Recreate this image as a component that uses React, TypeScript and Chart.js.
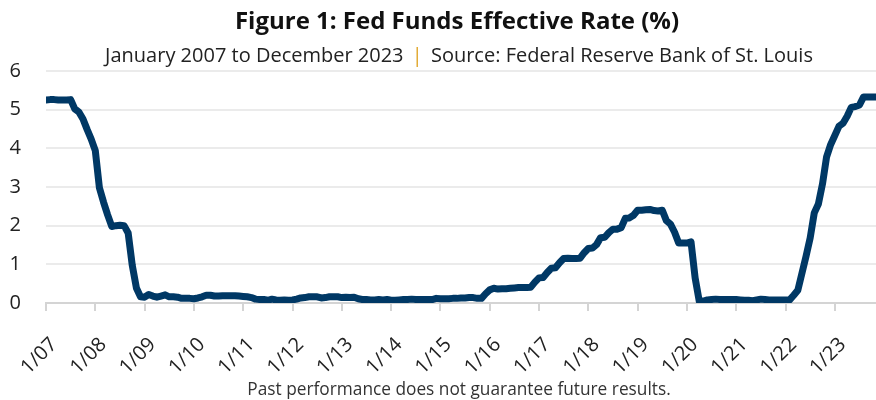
import React, { useEffect, useRef } from "react";
import { Chart, registerables } from "chart.js";

Chart.register(...registerables);

const startYear = 2007;
const rate2007 = [5.25, 5.26, 5.26, 5.25, 5.25, 5.25, 5.26, 5.02, 4.94, 4.76, 4.49, 4.24];
const rate2008 = [3.94, 2.98, 2.61, 2.28, 1.98, 2.0, 2.01, 2.0, 1.81, 0.97, 0.39, 0.16];
const rate2009 = [0.15, 0.22, 0.18, 0.15, 0.18, 0.21, 0.16, 0.16, 0.15, 0.12, 0.12, 0.12];
const rate2010 = [0.11, 0.13, 0.16, 0.2, 0.2, 0.18, 0.18, 0.19, 0.19, 0.19, 0.19, 0.18];
const rate2011 = [0.17, 0.16, 0.14, 0.1, 0.09, 0.09, 0.07, 0.1, 0.08, 0.07, 0.08, 0.07];
const rate2012 = [0.08, 0.1, 0.13, 0.14, 0.16, 0.16, 0.16, 0.13, 0.14, 0.16, 0.16, 0.16];
const rate2013 = [0.14, 0.15, 0.14, 0.15, 0.11, 0.09, 0.09, 0.08, 0.08, 0.09, 0.08, 0.09];
const rate2014 = [0.07, 0.07, 0.08, 0.09, 0.09, 0.1, 0.09, 0.09, 0.09, 0.09, 0.09, 0.12];
const rate2015 = [0.11, 0.11, 0.11, 0.12, 0.12, 0.13, 0.13, 0.14, 0.14, 0.12, 0.12, 0.24];
const rate2016 = [0.34, 0.38, 0.36, 0.37, 0.37, 0.38, 0.39, 0.4, 0.4, 0.4, 0.41, 0.54];
const rate2017 = [0.65, 0.66, 0.79, 0.9, 0.91, 1.04, 1.15, 1.16, 1.15, 1.15, 1.16, 1.3];
const rate2018 = [1.41, 1.42, 1.51, 1.69, 1.7, 1.82, 1.91, 1.91, 1.95, 2.19, 2.2, 2.27];
const rate2019 = [2.4, 2.4, 2.41, 2.42, 2.39, 2.38, 2.4, 2.13, 2.04, 1.83, 1.55, 1.55];
const rate2020 = [1.55, 1.58, 0.65, 0.05, 0.05, 0.08, 0.09, 0.1, 0.09, 0.09, 0.09, 0.09];
const rate2021 = [0.09, 0.08, 0.07, 0.07, 0.06, 0.08, 0.1, 0.09, 0.08, 0.08, 0.08, 0.08];
const rate2022 = [0.08, 0.08, 0.2, 0.33, 0.77, 1.21, 1.68, 2.33, 2.56, 3.08, 3.78, 4.1];
const rate2023 = [4.33, 4.57, 4.65, 4.83, 5.06, 5.08, 5.12, 5.33, 5.33, 5.33, 5.33, 5.33];

const allRates = [
  ...rate2007, ...rate2008, ...rate2009, ...rate2010, ...rate2011, ...rate2012,
  ...rate2013, ...rate2014, ...rate2015, ...rate2016, ...rate2017, ...rate2018,
  ...rate2019, ...rate2020, ...rate2021, ...rate2022, ...rate2023,
];

const yTicks = [0, 1, 2, 3, 4, 5, 6];

const FONT = "'Open Sans', 'Noto Sans', sans-serif";

export default function App() {
  const ref = useRef<HTMLCanvasElement | null>(null);

  useEffect(() => {
    if (!ref.current) return;
    const points = allRates.map((v, i) => ({ x: i, y: v }));
    const chart = new Chart(ref.current, {
      type: "line",
      data: {
        datasets: [
          {
            data: points,
            borderColor: "#003865",
            borderWidth: 7,
            pointRadius: 0,
            tension: 0,
            borderJoinStyle: "round",
            borderCapStyle: "round",
          },
        ],
      },
      options: {
        animation: false,
        responsive: false,
        maintainAspectRatio: false,
        layout: { padding: { top: 71, right: 0, left: 0, bottom: 0 } },
        plugins: {
          legend: { display: false },
          tooltip: { enabled: false },
          title: { display: false },
        },
        scales: {
          x: {
            type: "linear",
            min: 0,
            max: allRates.length - 1,
            afterBuildTicks: (scale: any) => {
              const t = [];
              for (let i = 0; i < allRates.length; i += 12) t.push({ value: i });
              scale.ticks = t;
            },
            afterFit: (scale: any) => {
              scale.height = 97;
              scale.paddingLeft = 0;
              scale.paddingRight = 0;
            },
            ticks: {
              autoSkip: false,
              maxRotation: 45,
              minRotation: 45,
              padding: 22,
              labelOffset: 8,
              color: "#222",
              font: { family: FONT, size: 20 },
              callback: (v: any) => {
                const yr = startYear + Math.round(Number(v) / 12);
                return "1/" + String(yr % 100).padStart(2, "0");
              },
            },
            grid: {
              drawOnChartArea: false,
              drawTicks: true,
              tickLength: 8,
              color: "#d4d4d4",
              lineWidth: 2,
            },
            border: { display: true, color: "#d4d4d4", width: 2 },
          },
          y: {
            min: 0,
            max: 6,
            afterBuildTicks: (scale: any) => {
              scale.ticks = yTicks.map((v) => ({ value: v }));
            },
            afterFit: (scale: any) => {
              scale.width = 46;
            },
            ticks: {
              padding: 25,
              color: "#222",
              font: { family: FONT, size: 20 },
            },
            grid: {
              color: "#ebebeb",
              lineWidth: 2,
              drawTicks: false,
            },
            border: { display: false },
          },
        },
      },
    });
    return () => chart.destroy();
  }, []);

  return (
    <div style={{ position: "fixed", left: 0, top: 0, width: 876, height: 400, overflow: "hidden", background: "#fff", fontFamily: FONT }}>
      <canvas ref={ref} width={880} height={400} style={{ position: "absolute", left: 0, top: 0, width: 880, height: 400 }} />
      <div style={{ position: "absolute", left: 0, width: 914, top: 4, textAlign: "center", fontSize: 24, fontWeight: 700, color: "#111", lineHeight: "32px" }}>
        Figure 1: Fed Funds Effective Rate (%)
      </div>
      <div style={{ position: "absolute", left: 0, width: 918, top: 42, textAlign: "center", fontSize: 20, color: "#222", lineHeight: "26px", whiteSpace: "nowrap" }}>
        January 2007 to December 2023 <span style={{ color: "#e0a526", margin: "0 3px" }}>|</span> Source: Federal Reserve Bank of St. Louis
      </div>
      <div style={{ position: "absolute", left: 0, width: 918, top: 377, textAlign: "center", fontSize: 17.3, color: "#333", lineHeight: "24px" }}>
        Past performance does not guarantee future results.
      </div>
    </div>
  );
}
